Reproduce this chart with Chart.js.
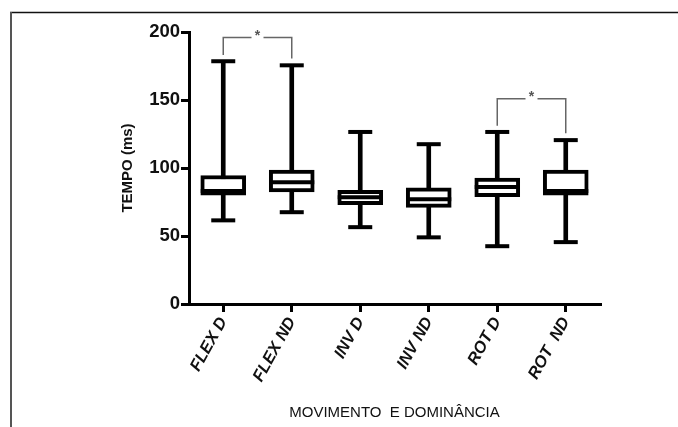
<!DOCTYPE html>
<html>
<head>
<meta charset="utf-8">
<title>Tempo por movimento e dominância</title>
<script src="https://cdn.jsdelivr.net/npm/chart.js@4.4.0/dist/chart.umd.min.js"></script>
<style>
  html, body { margin: 0; padding: 0; background: #fff; }
  #wrap { width: 678px; height: 427px; position: relative; }
</style>
</head>
<body>
<div id="wrap"><canvas id="boxChart"></canvas></div>
<script>
// dados
const categories = ['FLEX D', 'FLEX ND', 'INV D', 'INV ND', 'ROT D', 'ROT  ND'];
const minValues = [61.5, 67.5, 56.5, 49, 42.5, 45.5];
const q1Values = [80, 82.5, 73, 71, 79, 80];
const medianValues = [83, 89.5, 78.5, 77, 86, 83];
const q3Values = [94.5, 98.5, 83.5, 85.5, 92.5, 98.5];
const maxValues = [178.5, 175.5, 126.5, 117.5, 126.5, 120.5];
const yTicks = [0, 50, 100, 150, 200];

// colchetes de significância (*)
const sigPairs = [[0, 1], [4, 5]];
const sigTop = [196, 151];
const sigLeftEnd = [183, 131];
const sigRightEnd = [180.5, 125.5];

const boxWidth = 45;
const capWidth = 24;
const lineW = 4;

// moldura (topo e esquerda)
const framePlugin = {
    id: 'frame',
    beforeDraw(chart) {
        const ctx = chart.ctx;
        ctx.save();
        ctx.fillStyle = '#fff';
        ctx.fillRect(0, 0, chart.width, chart.height);
        ctx.strokeStyle = '#111';
        ctx.lineWidth = 1.5;
        ctx.beginPath();
        ctx.moveTo(10, 12.5);
        ctx.lineTo(chart.width, 12.5);
        ctx.stroke();
        ctx.strokeStyle = '#555';
        ctx.lineWidth = 2;
        ctx.beginPath();
        ctx.moveTo(11, 12);
        ctx.lineTo(11, chart.height);
        ctx.stroke();
        ctx.restore();
    }
};

// mediana, "caps" dos bigodes e colchetes
const boxExtras = {
    id: 'boxExtras',
    afterDatasetsDraw(chart) {
        const ctx = chart.ctx;
        const x = chart.scales.x;
        const y = chart.scales.y;
        ctx.save();
        ctx.strokeStyle = '#000';
        ctx.lineWidth = lineW;
        ctx.lineCap = 'butt';
        categories.forEach((c, i) => {
            const px = x.getPixelForValue(i);
            [minValues[i], maxValues[i]].forEach(v => {
                const py = y.getPixelForValue(v);
                ctx.beginPath();
                ctx.moveTo(px - capWidth / 2, py);
                ctx.lineTo(px + capWidth / 2, py);
                ctx.stroke();
            });
            const pm = y.getPixelForValue(medianValues[i]);
            ctx.beginPath();
            ctx.moveTo(px - boxWidth / 2, pm);
            ctx.lineTo(px + boxWidth / 2, pm);
            ctx.stroke();
        });

        ctx.strokeStyle = '#666';
        ctx.lineWidth = 1.5;
        ctx.fillStyle = '#555';
        ctx.font = 'bold 14px "Liberation Sans", Arial, sans-serif';
        ctx.textAlign = 'center';
        ctx.textBaseline = 'middle';
        sigPairs.forEach((p, k) => {
            const x1 = x.getPixelForValue(p[0]);
            const x2 = x.getPixelForValue(p[1]);
            const yt = y.getPixelForValue(sigTop[k]);
            const yl = y.getPixelForValue(sigLeftEnd[k]);
            const yr = y.getPixelForValue(sigRightEnd[k]);
            const xm = (x1 + x2) / 2;
            ctx.beginPath();
            ctx.moveTo(x1, yl);
            ctx.lineTo(x1, yt);
            ctx.lineTo(xm - 6, yt);
            ctx.moveTo(xm + 6, yt);
            ctx.lineTo(x2, yt);
            ctx.lineTo(x2, yr);
            ctx.stroke();
            ctx.fillText('*', xm, yt - 1);
        });
        ctx.restore();
    }
};

const boxData = categories.map((c, i) => [q1Values[i], q3Values[i]]);
const whiskerData = categories.map((c, i) => [minValues[i], maxValues[i]]);

new Chart(document.getElementById('boxChart'), {
    type: 'bar',
    data: {
        labels: categories,
        datasets: [{
            label: 'caixa',
            data: boxData,
            grouped: false,
            barThickness: boxWidth,
            backgroundColor: '#fff',
            borderColor: '#000',
            borderWidth: lineW,
            borderSkipped: false
        }, {
            label: 'bigode',
            data: whiskerData,
            grouped: false,
            barThickness: lineW,
            backgroundColor: '#000',
            borderWidth: 0
        }]
    },
    options: {
        responsive: true,
        maintainAspectRatio: false,
        animation: false,
        layout: { padding: { left: 0, right: 78, top: 32, bottom: 0 } },
        plugins: {
            legend: { display: false },
            tooltip: { enabled: false }
        },
        scales: {
            x: {
                afterFit(s) { s.height = 123; },
                grid: {
                    offset: false,
                    drawOnChartArea: false,
                    tickLength: 8,
                    lineWidth: 3,
                    color: '#000'
                },
                border: { color: '#000', width: 3 },
                ticks: {
                    autoSkip: false,
                    minRotation: 61,
                    maxRotation: 61,
                    padding: 2,
                    color: '#111',
                    font: { family: '"Liberation Sans", Arial, sans-serif', size: 16.5, weight: 'bold', style: 'italic' }
                },
                title: {
                    display: true,
                    text: 'MOVIMENTO  E DOMINÂNCIA',
                    color: '#111',
                    padding: { top: 0, bottom: 5 },
                    font: { family: '"Liberation Sans", Arial, sans-serif', size: 15 }
                }
            },
            y: {
                min: 0,
                max: 200,
                afterFit(s) { s.width = 189; },
                afterBuildTicks(s) { s.ticks = yTicks.map(v => ({ value: v })); },
                grid: {
                    drawOnChartArea: false,
                    tickLength: 8,
                    lineWidth: 3,
                    color: '#000'
                },
                border: { color: '#000', width: 3 },
                ticks: {
                    padding: 1,
                    color: '#111',
                    font: { family: '"Liberation Sans", Arial, sans-serif', size: 18.5, weight: 'bold' }
                },
                title: {
                    display: true,
                    text: 'TEMPO (ms)',
                    color: '#111',
                    padding: { top: 119, bottom: 0 },
                    font: { family: '"Liberation Sans", Arial, sans-serif', size: 15, weight: 'bold' }
                }
            }
        }
    },
    plugins: [framePlugin, boxExtras]
});
</script>
</body>
</html>
